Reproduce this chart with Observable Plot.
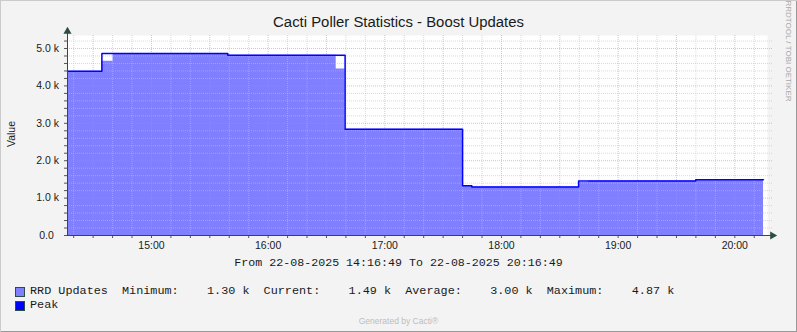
<!DOCTYPE html>
<html>
<head>
<meta charset="utf-8">
<script src="https://cdn.jsdelivr.net/npm/d3@7"></script>
<script src="https://cdn.jsdelivr.net/npm/@observablehq/plot@0.6"></script>
<style>
  html, body { margin: 0; padding: 0; background: #F3F3F3; }
  #wrap { position: relative; width: 797px; height: 332px; background: #F3F3F3; overflow: hidden;
          box-shadow: inset 1px 1px 0 #CBCBCB, inset -1px -1px 0 #999999; font-family: "Liberation Sans", Arial, sans-serif; }
  .abs { position: absolute; white-space: pre; }
  #title { left: 0; width: 797px; text-align: center; top: 13px; line-height: 19px; font-size: 14.9px; color: #1a1a1a; }
  #ylabel { left: 11px; top: 134px; transform: translate(-50%, -50%) rotate(-90deg); font-size: 10.5px; color: #1a1a1a; }
  #rrdtool { left: 788px; top: 51px; transform: translate(-50%, -50%) rotate(90deg); font-size: 8px; color: #a8a8a8; }
  .mono { font-family: "Liberation Mono", "DejaVu Sans Mono", monospace; color: #1a1a1a; }
  #range { left: 0; width: 797px; text-align: center; top: 256px; line-height: 14px; font-size: 11.65px; }
  .row { left: 30px; line-height: 14px; font-size: 11.8px; }
  .box { position: absolute; left: 15px; width: 8px; height: 8px; border: 1px solid #2C4D43; }
  #gen { left: 0; width: 797px; text-align: center; top: 316px; line-height: 10px; font-size: 8.5px; color: #bdbdbd; }
  #chart { position: absolute; left: 0; top: 0; }
</style>
</head>
<body>
<div id="wrap">
  <div id="chart"></div>
  <div class="abs" id="title"></div>
  <div class="abs" id="ylabel"></div>
  <div class="abs" id="rrdtool"></div>
  <div class="abs mono" id="range"></div>
  <div class="box" style="top:287px;background:#7F7FFF"></div>
  <div class="abs mono row" id="row1" style="top:284px"></div>
  <div class="box" style="top:301px;background:#0000FF"></div>
  <div class="abs mono row" id="row2" style="top:298px"></div>
  <div class="abs" id="gen"></div>
</div>
<script>
// ---- data ----
const titleText = "Cacti Poller Statistics - Boost Updates";
const yLabelText = "Value";
const sideText = "RRDTOOL / TOBI OETIKER";
const rangeText = "From 22-08-2025 14:16:49 To 22-08-2025 20:16:49";
const legendRows = [
  "RRD Updates  Minimum:    1.30 k  Current:    1.49 k  Average:    3.00 k  Maximum:    4.87 k",
  "Peak"
];
const footerText = "Generated by Cacti®";

const startTime = "14:16:49";
const endTime = "20:16:49";
const times = ["14:16:49","14:34:30","14:40:15","15:39:15","16:35:00","16:39:35","17:40:00","17:44:45","18:39:40","18:44:55","19:39:55","20:14:45"];
const rrdUpdates = [4390,4660,4870,4820,4450,2840,1330,1300,1420,1460,1490,1490];
const peak =       [4390,4870,4870,4820,4820,2840,1330,1300,1460,1460,1490,1490];
const yTicks = [0,1000,2000,3000,4000,5000];
const yMax = 5348;

// ---- build ----
const toDate = s => { const [h,m,sec] = s.split(":").map(Number); return new Date(Date.UTC(2025,7,22,h,m,sec)); };
const t0 = toDate(startTime), t1 = toDate(endTime);
const data = times.map((t,i) => ({t: toDate(t), rrd: rrdUpdates[i], peak: peak[i]}));

const minorX = d3.utcMinute.every(10).range(t0, t1);
const majorX = d3.utcMinute.every(30).range(t0, t1);
const hourX = d3.utcHour.range(t0, t1);
const minorY = d3.range(200, yMax, 200).filter(v => v % 1000 !== 0);
const majorY = yTicks.filter(v => v > 0);

const gridStroke = "rgb(192,192,192)";
const mgridStroke = "rgb(230,128,128)";
const axisColor = "#2C4D43";

const plot = Plot.plot({
  width: 797, height: 280,
  marginLeft: 67, marginRight: 30, marginTop: 35, marginBottom: 45,
  style: {background: "transparent", fontFamily: "Liberation Sans, Arial, sans-serif", fontSize: "10.5px", color: "#1a1a1a", overflow: "visible"},
  x: {type: "utc", domain: [t0, t1]},
  y: {domain: [0, yMax]},
  marks: [
    Plot.frame({fill: "white", stroke: null}),
    Plot.areaY(data, {x: "t", y: "rrd", curve: "step-after", fill: "#7F7FFF"}),
    Plot.ruleX(minorX.filter(d => !majorX.some(m => +m === +d)), {stroke: gridStroke, strokeOpacity: 0.6, strokeDasharray: "1,1"}),
    Plot.ruleY(minorY, {stroke: gridStroke, strokeOpacity: 0.6, strokeDasharray: "1,1", insetRight: -6}),
    Plot.ruleX(majorX, {stroke: mgridStroke, strokeOpacity: 0.55, strokeDasharray: "1,1"}),
    Plot.ruleY(majorY, {stroke: mgridStroke, strokeOpacity: 0.55, strokeDasharray: "1,1", insetRight: -6}),
    Plot.lineY(data, {x: "t", y: "peak", curve: "step-after", stroke: "#0000FF", strokeWidth: 1.5}),
    // axis ticks outside the canvas
    Plot.axisY({ticks: minorY.concat(majorY, [0]), tickSize: 3, fill: "none", stroke: "#555", label: null}),
    Plot.axisX({ticks: minorX, tickSize: 3, fill: "none", stroke: "#555", label: null}),
    // tick labels
    Plot.axisY({ticks: yTicks, tickSize: 0, tickPadding: 8.5, label: null,
      tickFormat: d => d === 0 ? "0.0\u2002" : (d / 1000).toFixed(1) + " k"}),
    Plot.axisX({ticks: hourX, tickSize: 0, tickPadding: 6, label: null, tickFormat: d3.utcFormat("%H:%M")}),
    // axes lines and arrows
    Plot.ruleX([t0], {stroke: axisColor, insetTop: -4}),
    Plot.ruleY([0], {stroke: axisColor, insetRight: -5}),
    Plot.dot([t0], {x: d => d, frameAnchor: "top", symbol: "triangle", r: 3, dy: -4, fill: axisColor, stroke: null}),
    Plot.dot([0], {y: d => d, frameAnchor: "right", symbol: "triangle", r: 3, dx: 5, rotate: 90, fill: axisColor, stroke: null})
  ]
});
document.getElementById("chart").appendChild(plot);

document.getElementById("title").textContent = titleText;
document.getElementById("ylabel").textContent = yLabelText;
document.getElementById("rrdtool").textContent = sideText;
document.getElementById("range").textContent = rangeText;
document.getElementById("row1").textContent = legendRows[0];
document.getElementById("row2").textContent = legendRows[1];
document.getElementById("gen").textContent = footerText;
</script>
</body>
</html>
